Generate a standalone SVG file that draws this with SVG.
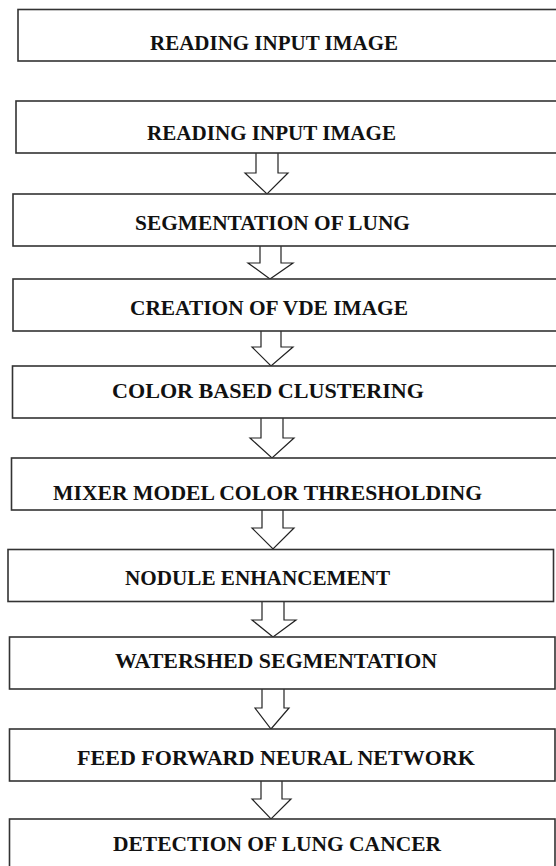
<svg xmlns="http://www.w3.org/2000/svg" width="556" height="866" viewBox="0 0 556 866">
<style>
.box{fill:#fff;stroke:#333;stroke-width:1.6}
.lbl{font-family:"Liberation Serif","Times New Roman",serif;font-weight:bold;font-size:22px;fill:#111;text-anchor:middle}
.arr{fill:#fff;stroke:#222;stroke-width:1.2;stroke-linejoin:miter}
</style>
<rect width="556" height="866" fill="#fff"/>
<g id="connectors">
<polyline class="arr" points="256,153 256,173 245,173 267,194 288,173 278,173 278,153"/>
<polyline class="arr" points="260,246 260,263 248,263 270,279 293,263 281,263 281,246"/>
<polyline class="arr" points="261,331 261,347 252,347 271,366 293,347 281,347 281,331"/>
<polyline class="arr" points="261,418 261,438 250,438 272,458 294,438 283,438 283,418"/>
<polyline class="arr" points="262,510 262,528 252,528 273,549 294,528 283,528 283,510"/>
<polyline class="arr" points="262,602 262,620 252,620 273,637 296,620 284,620 284,602"/>
<polyline class="arr" points="262,689 262,708 255,708 271,729 289,708 284,708 284,689"/>
<polyline class="arr" points="261,781 261,799 252,799 271,819 291,799 282,799 282,781"/>
</g>
<g id="n1"><rect class="box" x="18" y="9.5" width="560" height="51.5"/><text class="lbl" x="274" y="49.5" textLength="248" lengthAdjust="spacingAndGlyphs">READING INPUT IMAGE</text></g>
<g id="n2"><rect class="box" x="16" y="101" width="560" height="52"/><text class="lbl" x="271.5" y="139.5" textLength="249" lengthAdjust="spacingAndGlyphs">READING INPUT IMAGE</text></g>
<g id="n3"><rect class="box" x="13" y="194" width="560" height="52"/><text class="lbl" x="272.5" y="229.5" textLength="275" lengthAdjust="spacingAndGlyphs">SEGMENTATION OF LUNG</text></g>
<g id="n4"><rect class="box" x="13" y="279" width="560" height="52"/><text class="lbl" x="269" y="314.5" textLength="278" lengthAdjust="spacingAndGlyphs">CREATION OF VDE IMAGE</text></g>
<g id="n5"><rect class="box" x="12.5" y="366" width="560" height="52"/><text class="lbl" x="268" y="397.5" textLength="312" lengthAdjust="spacingAndGlyphs">COLOR BASED CLUSTERING</text></g>
<g id="n6"><rect class="box" x="11.5" y="458" width="560" height="52"/><text class="lbl" x="267.5" y="499.5" textLength="429" lengthAdjust="spacingAndGlyphs">MIXER MODEL COLOR THRESHOLDING</text></g>
<g id="n7"><rect class="box" x="8" y="549.5" width="545.5" height="52"/><text class="lbl" x="257.5" y="584.5" textLength="265" lengthAdjust="spacingAndGlyphs">NODULE ENHANCEMENT</text></g>
<g id="n8"><rect class="box" x="9.5" y="637" width="545.5" height="52"/><text class="lbl" x="276" y="667.5" textLength="322" lengthAdjust="spacingAndGlyphs">WATERSHED SEGMENTATION</text></g>
<g id="n9"><rect class="box" x="9.5" y="729" width="545.5" height="52"/><text class="lbl" x="276" y="764.5" textLength="398" lengthAdjust="spacingAndGlyphs">FEED FORWARD NEURAL NETWORK</text></g>
<g id="n10"><rect class="box" x="9.5" y="819" width="545.5" height="60"/><text class="lbl" x="277" y="850.5" textLength="328" lengthAdjust="spacingAndGlyphs">DETECTION OF LUNG CANCER</text></g>
</svg>
